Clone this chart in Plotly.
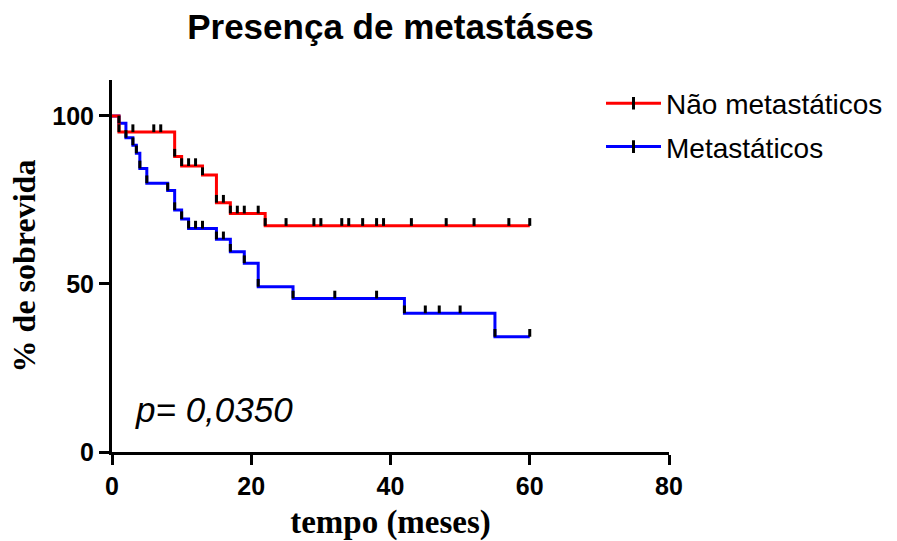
import plotly.graph_objects as go

# ---- data ----
red_name = "Não metastáticos"
red_t = [0, 1, 3, 6, 7, 9, 10, 11, 12, 13, 15, 16, 17, 18, 19, 21, 22,
         25, 29, 30, 33, 34, 36, 38, 39, 43, 48, 52, 57, 60]
red_s = [100, 95.2, 95.2, 95.2, 95.2, 87.9, 85.1, 85.1, 85.1, 82.4, 74.2, 74.2, 71.0, 71.0, 71.0, 71.0, 67.3,
         67.3, 67.3, 67.3, 67.3, 67.3, 67.3, 67.3, 67.3, 67.3, 67.3, 67.3, 67.3, 67.3]

blue_name = "Metastáticos"
blue_t = [0, 1, 2, 3, 3.5, 4, 5, 8, 9, 10, 11, 12, 13, 15, 16, 17, 19, 21, 26,
          32, 38, 42, 45, 47, 50, 55, 60]
blue_s = [100, 97.8, 93.5, 91.3, 88.9, 84.4, 80.0, 77.8, 72.0, 69.3, 66.5, 66.5, 66.5, 63.3, 63.3, 59.6, 56.2, 49.2, 45.7,
          45.7, 45.7, 41.3, 41.3, 41.3, 41.3, 34.3, 34.3]

x_ticks = [0, 20, 40, 60, 80]
y_ticks = [0, 50, 100]

title_text = "Presença de metastáses"
x_title = "tempo (meses)"
y_title = "% de sobrevida"
p_text = "p= 0,0350"

RED = "#FF0000"
BLUE = "#0000FF"
TICK_H = 2.3  # height of the event tick marks, in % units

fig = go.Figure()


def add_curve(t, s, color):
    fig.add_trace(go.Scatter(x=t, y=s, mode="lines", line=dict(color=color, width=3, shape="hv"),
                             showlegend=False, hoverinfo="skip"))


def add_ticks(t, s):
    fig.add_trace(go.Scatter(
        x=t[1:], y=s[1:], mode="markers",
        marker=dict(size=1, opacity=0),
        error_y=dict(type="data", symmetric=False, array=[TICK_H] * (len(t) - 1),
                     arrayminus=[0] * (len(t) - 1), width=0, thickness=3, color="black"),
        showlegend=False, hoverinfo="skip"))


add_curve(blue_t, blue_s, BLUE)
add_curve(red_t, red_s, RED)
add_ticks(blue_t, blue_s)
add_ticks(red_t, red_s)

# legend entries
for name, color, grp in [(red_name, RED, "a"), (blue_name, BLUE, "b")]:
    fig.add_trace(go.Scatter(x=[None], y=[None], mode="lines+markers", name=name, legendgroup=grp,
                             line=dict(color=color, width=3),
                             marker=dict(symbol="line-ns", size=9, color="black",
                                         line=dict(color="black", width=3))))

fig.add_annotation(x=3, y=12.5, xref="x", yref="y", text=p_text, showarrow=False,
                   xanchor="left", yanchor="middle",
                   font=dict(family="Liberation Sans", size=35, color="black", style="italic"))

fig.update_layout(
    width=897, height=541,
    margin=dict(l=112, r=228, t=80, b=89, autoexpand=False),
    paper_bgcolor="white", plot_bgcolor="white",
    title=dict(text=title_text, x=0.5, xref="paper", y=1 - 27 / 541, yanchor="middle",
               font=dict(family="Liberation Sans", size=35, color="black", weight="bold")),
    legend=dict(x=(601 - 112) / 557, y=1.004, xanchor="left", yanchor="top", xref="paper", yref="paper",
                font=dict(family="Liberation Sans", size=28, color="black"),
                tracegroupgap=4, itemwidth=55, bgcolor="rgba(0,0,0,0)"),
    showlegend=True,
)

fig.update_xaxes(range=[0, 80], tickvals=x_ticks, showline=True, linewidth=3, linecolor="black",
                 ticks="outside", ticklen=10, tickwidth=3, tickcolor="black", showgrid=False, zeroline=False,
                 automargin=False,
                 tickfont=dict(family="Liberation Sans", size=25, color="black", weight="bold"),
                 title=dict(text=x_title, standoff=13,
                            font=dict(family="Liberation Serif", size=33, color="black", weight="bold")))
fig.update_yaxes(range=[0, 110.7], tickvals=y_ticks, showline=True, linewidth=3, linecolor="black",
                 ticks="outside", ticklen=10, tickwidth=3, tickcolor="black", showgrid=False, zeroline=False,
                 automargin=False,
                 tickfont=dict(family="Liberation Sans", size=25, color="black", weight="bold"),
                 title=dict(text=y_title, standoff=8,
                            font=dict(family="Liberation Serif", size=32, color="black", weight="bold")))

fig.write_html("out.html")
